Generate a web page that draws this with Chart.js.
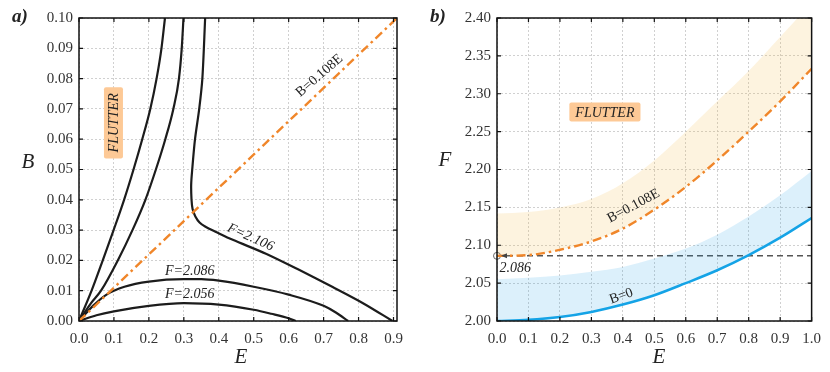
<!DOCTYPE html>
<html>
<head>
<meta charset="utf-8">
<script src="https://cdn.jsdelivr.net/npm/chart.js@4.4.0/dist/chart.umd.min.js"></script>
<style>
  body { margin: 0; background: #fff; }
  #wrap { position: relative; width: 830px; height: 372px; }
  canvas { position: absolute; top: 0; }
</style>
</head>
<body>
<div id="wrap">
  <canvas id="chartA" width="420" height="372" style="left:0"></canvas>
  <canvas id="chartB" width="410" height="372" style="left:420px"></canvas>
</div>
<script>
const serif = "'Liberation Serif', 'DejaVu Serif', serif";

// ---- panel a) : B against E for fixed F ----
const aTicksE = [0, 0.1, 0.2, 0.3, 0.4, 0.5, 0.6, 0.7, 0.8, 0.9];
const aTicksB = [0, 0.01, 0.02, 0.03, 0.04, 0.05, 0.06, 0.07, 0.08, 0.09, 0.10];

// steep branches starting at the origin
const left1E = [0, 0.036, 0.068, 0.099, 0.129, 0.156, 0.181, 0.204, 0.222, 0.236, 0.246];
const left1B = [0, 0.010, 0.020, 0.030, 0.040, 0.050, 0.060, 0.070, 0.080, 0.090, 0.100];
const left2E = [0, 0.034, 0.063, 0.111, 0.153, 0.190, 0.220, 0.247, 0.270, 0.286, 0.294, 0.299];
const left2B = [0, 0.0058, 0.010, 0.020, 0.030, 0.040, 0.050, 0.060, 0.070, 0.080, 0.090, 0.100];

// F=2.106 curve (top to bottom right)
const f2106E = [0.361, 0.353, 0.344, 0.332, 0.324, 0.321, 0.322, 0.325, 0.333, 0.345, 0.362, 0.392, 0.440, 0.535, 0.631, 0.726, 0.814, 0.897];
const f2106B = [0.100, 0.080, 0.070, 0.060, 0.050, 0.045, 0.040, 0.037, 0.0345, 0.0325, 0.0311, 0.0294, 0.0268, 0.0222, 0.0168, 0.0112, 0.0058, 0];

// F=2.086 and F=2.056 arches
const f2086E = [0, 0.04, 0.08, 0.13, 0.2, 0.3, 0.35, 0.4, 0.5, 0.6, 0.7, 0.735, 0.77];
const f2086B = [0, 0.0050, 0.0088, 0.0113, 0.0130, 0.0138, 0.0138, 0.0133, 0.0113, 0.0087, 0.0050, 0.0028, 0];
const f2056E = [0, 0.05, 0.1, 0.2, 0.3, 0.4, 0.5, 0.55, 0.6, 0.62];
const f2056B = [0, 0.0019, 0.0032, 0.0050, 0.0059, 0.0054, 0.0037, 0.0024, 0.0009, 0];

// B = 0.108E
const lineE = [0, 0.91];
const lineB = [0, 0.100];

// ---- panel b) : F against E ----
const bTicksE = [0, 0.1, 0.2, 0.3, 0.4, 0.5, 0.6, 0.7, 0.8, 0.9, 1.0];
const bTicksF = [2.00, 2.05, 2.10, 2.15, 2.20, 2.25, 2.30, 2.35, 2.40];

const bE = [0, 0.1, 0.2, 0.3, 0.4, 0.5, 0.6, 0.7, 0.8, 0.9, 1.0];
const fB0 = [2.000, 2.0015, 2.0053, 2.012, 2.0217, 2.034, 2.050, 2.067, 2.087, 2.110, 2.136];
const fB0Upper = [2.055, 2.057, 2.060, 2.065, 2.0714, 2.0825, 2.0957, 2.114, 2.138, 2.166, 2.198];
const fB108 = [2.086, 2.087, 2.094, 2.105, 2.122, 2.147, 2.177, 2.212, 2.250, 2.290, 2.333];
const fB108Upper = [2.142, 2.144, 2.150, 2.161, 2.182, 2.212, 2.250, 2.290, 2.330, 2.375, 2.420];

const refE = [0, 1];
const refF = [2.086, 2.086];

const pts = (xs, ys) => xs.map((x, i) => ({ x: x, y: ys[i] }));

const black = '#1c1c1c';
const orange = '#f0862a';
const blue = '#14a3e6';
const boxFill = '#fdc996';
const dashDot = [9, 4, 2.5, 4];

function curve(xs, ys, color, extra) {
  return Object.assign({
    data: pts(xs, ys),
    borderColor: color,
    borderWidth: 2.2,
    pointRadius: 0,
    cubicInterpolationMode: 'monotone',
    fill: false
  }, extra || {});
}

function axis(ticksArr, digits, min, max, pos, fitVal, pad) {
  return {
    type: 'linear',
    position: pos,
    min: min,
    max: max,
    afterBuildTicks: s => { s.ticks = ticksArr.map(v => ({ value: v })); },
    afterFit: s => { if (pos === 'left') s.width = fitVal; else s.height = fitVal; },
    grid: { color: '#c4c4c4', lineWidth: 0.8, drawTicks: false },
    border: { display: false, dash: [2, 2] },
    ticks: {
      padding: pad,
      color: '#333',
      font: { family: serif, size: 15 },
      callback: v => Number(v).toFixed(digits)
    }
  };
}

// frame, inner ticks, titles and text labels
function decor(o) {
  return {
    id: 'decor',
    afterDatasetsDraw(chart) {
      const { ctx, chartArea: a, scales: { x, y } } = chart;
      ctx.save();
      ctx.strokeStyle = '#111';
      ctx.lineWidth = 1.2;
      ctx.beginPath();
      x.ticks.forEach(t => {
        const px = x.getPixelForValue(t.value);
        ctx.moveTo(px, a.bottom); ctx.lineTo(px, a.bottom - 4);
        ctx.moveTo(px, a.top); ctx.lineTo(px, a.top + 4);
      });
      y.ticks.forEach(t => {
        const py = y.getPixelForValue(t.value);
        ctx.moveTo(a.left, py); ctx.lineTo(a.left + 4, py);
        ctx.moveTo(a.right, py); ctx.lineTo(a.right - 4, py);
      });
      ctx.stroke();
      ctx.lineWidth = 1.5;
      ctx.strokeRect(a.left, a.top, a.right - a.left, a.bottom - a.top);

      if (o.arrow) {
        const px = x.getPixelForValue(o.arrow[0]);
        const py = y.getPixelForValue(o.arrow[1]);
        ctx.fillStyle = '#444';
        ctx.beginPath();
        ctx.moveTo(px + 4, py);
        ctx.lineTo(px + 10, py - 2.5);
        ctx.lineTo(px + 10, py + 2.5);
        ctx.closePath();
        ctx.fill();
      }

      o.labels.forEach(l => {
        const px = x.getPixelForValue(l.x);
        const py = y.getPixelForValue(l.y);
        ctx.save();
        ctx.translate(px, py);
        ctx.rotate((l.rot || 0) * Math.PI / 180);
        ctx.font = (l.italic ? 'italic ' : '') + (l.size || 14) + 'px ' + serif;
        ctx.textAlign = 'center';
        ctx.textBaseline = 'middle';
        if (l.box) {
          const w = ctx.measureText(l.text).width + 12;
          const h = 19;
          ctx.fillStyle = boxFill;
          ctx.beginPath();
          ctx.roundRect(-w / 2, -h / 2, w, h, 2);
          ctx.fill();
        }
        ctx.fillStyle = '#222';
        ctx.fillText(l.text, 0, 1);
        ctx.restore();
      });

      ctx.fillStyle = '#222';
      ctx.textAlign = 'center';
      ctx.textBaseline = 'middle';
      ctx.font = 'italic 21px ' + serif;
      ctx.fillText(o.yTitle, o.yTitlePos[0], o.yTitlePos[1]);
      ctx.fillText(o.xTitle, o.xTitlePos[0], o.xTitlePos[1]);
      ctx.textAlign = 'left';
      ctx.textBaseline = 'alphabetic';
      ctx.font = 'bold italic 19px ' + serif;
      ctx.fillText(o.panel, o.panelPos[0], o.panelPos[1]);
      ctx.restore();
    }
  };
}

const common = {
  responsive: false,
  animation: false,
  plugins: { legend: { display: false }, tooltip: { enabled: false } }
};

new Chart(document.getElementById('chartA'), {
  type: 'line',
  data: {
    datasets: [
      curve(lineE, lineB, orange, { borderDash: dashDot, borderWidth: 2.4 }),
      curve(left1E, left1B, black),
      curve(left2E, left2B, black),
      curve(f2106E, f2106B, black, { cubicInterpolationMode: 'default', tension: 0.3 }),
      curve(f2086E, f2086B, black),
      curve(f2056E, f2056B, black)
    ]
  },
  options: Object.assign({}, common, {
    layout: { padding: { top: 18, right: 23, bottom: 0, left: 0 } },
    scales: {
      x: axis(aTicksE, 1, 0, 0.91, 'bottom', 51, 9),
      y: axis(aTicksB, 2, 0, 0.10, 'left', 79, 6)
    }
  }),
  plugins: [decor({
    panel: 'a)', panelPos: [12, 22],
    yTitle: 'B', yTitlePos: [28, 162],
    xTitle: 'E', xTitlePos: [241, 357],
    labels: [
      { text: 'FLUTTER', x: 0.0986, y: 0.0654, rot: -90, italic: true, box: true },
      { text: 'B=0.108E', x: 0.686, y: 0.0812, rot: -41 },
      { text: 'F=2.106', x: 0.492, y: 0.0279, rot: 24, italic: true },
      { text: 'F=2.086', x: 0.317, y: 0.0168, italic: true },
      { text: 'F=2.056', x: 0.317, y: 0.0092, italic: true }
    ]
  })]
});

new Chart(document.getElementById('chartB'), {
  type: 'line',
  data: {
    datasets: [
      curve(bE, fB0, blue, { borderWidth: 2.5 }),
      curve(bE, fB0Upper, 'rgba(0,0,0,0)', { borderWidth: 0, fill: '-1', backgroundColor: 'rgba(22,155,228,0.15)' }),
      curve(bE, fB108, orange, { borderDash: dashDot, borderWidth: 2.4 }),
      curve(bE, fB108Upper, 'rgba(0,0,0,0)', { borderWidth: 0, fill: '-1', backgroundColor: 'rgba(245,190,80,0.18)' }),
      curve(refE, refF, '#555', { borderWidth: 1.5, borderDash: [6, 4] }),
      {
        data: pts([refE[0]], [refF[0]]),
        showLine: false,
        pointRadius: 3.5,
        pointBackgroundColor: '#fff',
        pointBorderColor: '#666',
        pointBorderWidth: 1,
        clip: false
      }
    ]
  },
  options: Object.assign({}, common, {
    layout: { padding: { top: 18, right: 14, bottom: 0, left: 0 } },
    scales: {
      x: axis(bTicksE, 1, 0, 1, 'bottom', 51, 9),
      y: axis(bTicksF, 2, 2.0, 2.4, 'left', 77, 6)
    }
  }),
  plugins: [decor({
    panel: 'b)', panelPos: [10, 22],
    yTitle: 'F', yTitlePos: [25, 160],
    xTitle: 'E', xTitlePos: [239, 357],
    arrow: [refE[0], refF[0]],
    labels: [
      { text: 'FLUTTER', x: 0.343, y: 2.276, italic: true, box: true },
      { text: 'B=0.108E', x: 0.4325, y: 2.153, rot: -28 },
      { text: 'B=0', x: 0.394, y: 2.034, rot: -20 },
      { text: '2.086', x: 0.058, y: 2.0714, italic: true, size: 14 }
    ]
  })]
});
</script>
</body>
</html>
